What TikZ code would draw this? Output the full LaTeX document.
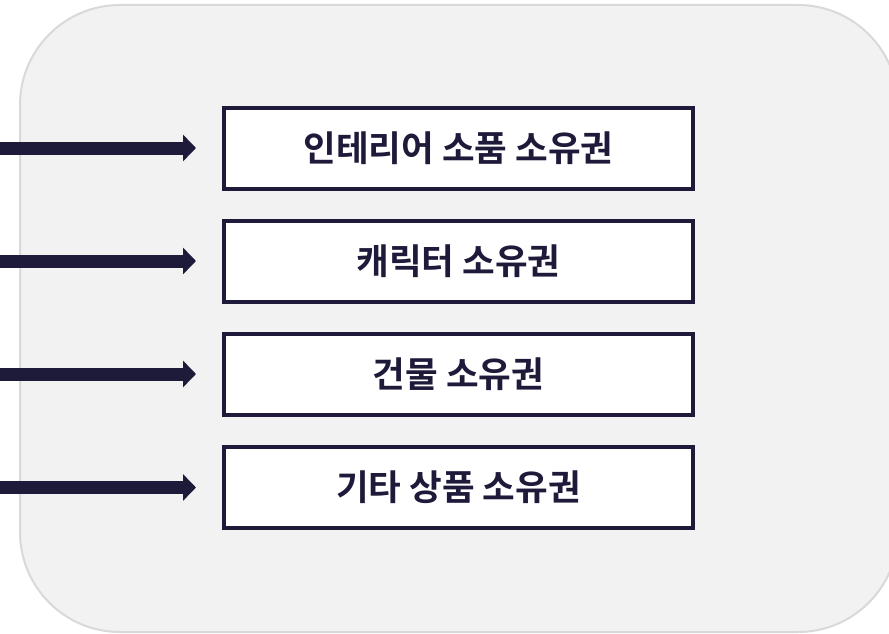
\documentclass[tikz,border=0pt]{standalone}
\usepackage{fontspec}
\newfontfamily\krfont{Noto Sans CJK KR}[BoldFont={Noto Sans CJK KR Bold}]
\usepackage{tikz}
\usetikzlibrary{arrows.meta}

\definecolor{navy}{HTML}{1E1A3A}
\definecolor{panelgray}{HTML}{F2F2F2}
\definecolor{panelline}{HTML}{D9D9D9}

\begin{document}
\begin{tikzpicture}[x=1pt, y=-1pt,
      itembox/.style = {shape=rectangle, draw=navy, line width=4pt,
        fill=white, minimum width=469pt, minimum height=81pt,
        text=navy, font=\krfont\bfseries\fontsize{35.5}{40}\selectfont},
      feed/.style = {draw=navy, line width=13pt,
        -{Triangle[length=13pt, width=26pt]}, shorten >=26pt}]
    \useasboundingbox (0,0) rectangle (889,634);
    \draw[panelline, fill=panelgray, line width=2pt, rounded corners=100pt]
      (20,5) rectangle (898,632);
    \node[itembox] (b1) at (458.5,148) {인테리어 소품 소유권};
    \node[itembox] (b2) at (458.5,261) {캐릭터 소유권};
    \node[itembox] (b3) at (458.5,374) {건물 소유권};
    \node[itembox] (b4) at (458.5,487.5) {기타 상품 소유권};
    \foreach \i in {1,...,4}
      \coordinate (s\i) at (b\i.west -| 0,0);
    \foreach \i in {1,...,4}
      \draw[feed] (s\i) -- (b\i.west);
  \end{tikzpicture}
\end{document}
